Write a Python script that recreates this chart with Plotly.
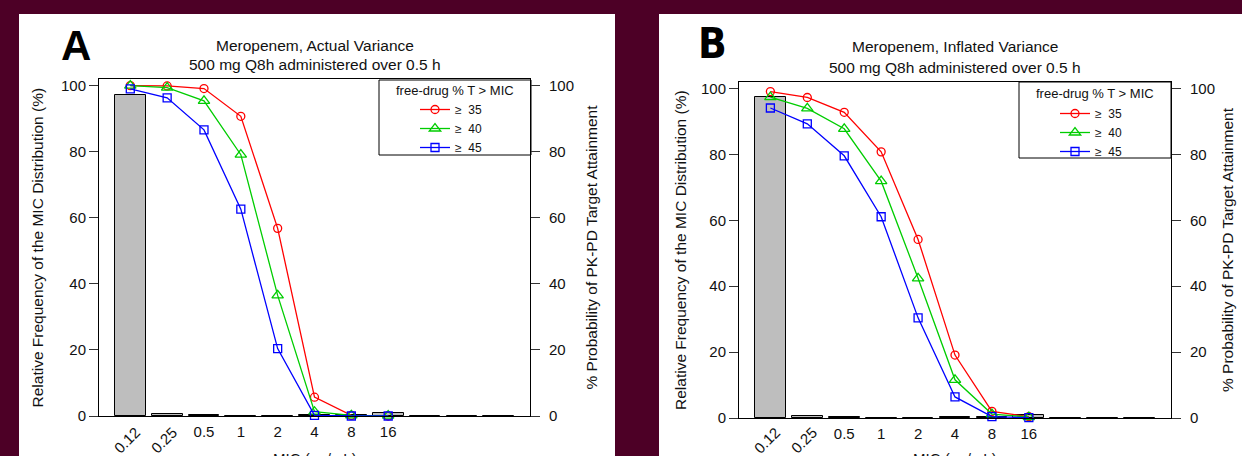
import plotly.graph_objects as go

# ---------------- data ----------------
mic_categories = ["0.12", "0.25", "0.5", "1", "2", "4", "8", "16", "32", "64", "128"]
mic_tick_labels = ["0.12", "0.25", "0.5", "1", "2", "4", "8", "16"]   # labelled categories
mic_freq = [97.3, 0.7, 0.3, 0.1, 0.1, 0.3, 0.2, 1.0, 0.0, 0.0, 0.0]

series_names = ["\u2265\u00a0\u00a035", "\u2265\u00a0\u00a040", "\u2265\u00a0\u00a045"]
pta_A_35 = [100.0, 99.9, 99.1, 90.7, 56.8, 5.7, 0.2, 0.0]
pta_A_40 = [100.0, 99.4, 95.4, 79.1, 36.5, 1.3, 0.2, 0.1]
pta_A_45 = [99.0, 96.3, 86.6, 62.6, 20.4, 0.2, 0.0, 0.0]
pta_B_35 = [99.1, 97.3, 92.8, 80.8, 54.2, 19.1, 2.0, 0.4]
pta_B_40 = [97.4, 94.0, 87.8, 71.9, 42.4, 11.6, 1.2, 0.3]
pta_B_45 = [94.1, 89.3, 79.6, 61.1, 30.4, 6.4, 0.4, 0.1]

panel_letters = ["A", "B"]
panel_titles = [("Meropenem, Actual Variance", "500 mg Q8h administered over 0.5 h"),
                ("Meropenem, Inflated Variance", "500 mg Q8h administered over 0.5 h")]
legend_title = "free-drug % T > MIC"
ylab_left = "Relative Frequency of the MIC Distribution (%)"
ylab_right = "% Probability of PK-PD Target Attainment"
xlab = "MIC (\u03bcg/mL)"
y_ticks = [0, 20, 40, 60, 80, 100]

# ---------------- styling ----------------
W, H = 1242, 456
BG = "#4d0026"
FONT = "Liberation Sans, Arial, Helvetica, sans-serif"
colors = ["#ff0000", "#00cd00", "#0000ff"]
symbols = ["circle-open", "triangle-up-open", "square-open"]
msizes = [8, 10, 8]

def fx(px):
    return px / W

def fy(py):
    return 1 - py / H

# bar positions like R barplot (width 1, space 0.2)
bar_x = [0.7 + 1.2 * i for i in range(len(mic_categories))]
x_range = [-0.32, 13.72]

panels = [
    dict(left=99, right=530, top=79, bottom=416, white=(19, 615),
         letter=(76, 46), t1=45.7, t2=64.5, yl=37, yr=591,
         leg=(415, 95), legbox=(379, 80, 531, 155), legt=90,
         series=[pta_A_35, pta_A_40, pta_A_45], lfont=FONT),
    dict(left=739, right=1171, top=82, bottom=418, white=(659, 1242),
         letter=(712, 44), t1=46.7, t2=67.5, yl=680, yr=1227,
         leg=(1055, 99), legbox=(1019, 82, 1171, 158), legt=93,
         series=[pta_B_35, pta_B_40, pta_B_45],
         lfont="Liberation Sans Narrow, DejaVu Sans Condensed, Liberation Sans, sans-serif"),
]

fig = go.Figure()
shapes = []
annotations = []
layout_axes = {}

for k, p in enumerate(panels):
    xa = "x" if k == 0 else "x2"
    ya_l = "y" if k == 0 else "y3"
    ya_r = "y2" if k == 0 else "y4"
    xa_name = "xaxis" if k == 0 else "xaxis2"
    yl_name = "yaxis" if k == 0 else "yaxis3"
    yr_name = "yaxis2" if k == 0 else "yaxis4"
    leg_name = "legend" if k == 0 else "legend2"

    # white panel
    shapes.append(dict(type="rect", xref="paper", yref="paper",
                       x0=fx(p["white"][0]), x1=fx(p["white"][1]),
                       y0=fy(470), y1=fy(14), fillcolor="white",
                       line=dict(width=0), layer="below"))

    # bars
    fig.add_trace(go.Bar(x=bar_x, y=mic_freq, width=1.0, xaxis=xa, yaxis=ya_l,
                         marker=dict(color="#bebebe", line=dict(color="black", width=1)),
                         showlegend=False, hoverinfo="skip"))

    # PTA lines
    for j, vals in enumerate(p["series"]):
        fig.add_trace(go.Scatter(
            x=bar_x[:len(vals)], y=vals, xaxis=xa, yaxis=ya_r,
            mode="lines+markers", name=series_names[j], legend=leg_name,
            line=dict(color=colors[j], width=1.3),
            marker=dict(symbol=symbols[j], size=msizes[j], color=colors[j],
                        line=dict(color=colors[j], width=1.3)),
            cliponaxis=False))

    xdom = [fx(p["left"]), fx(p["right"])]
    ydom = [fy(p["bottom"]), fy(p["top"])]
    layout_axes[xa_name] = dict(
        domain=xdom, range=x_range, anchor=ya_l, automargin=False,
        showline=True, mirror=True, linecolor="black", linewidth=1,
        showgrid=False, zeroline=False,
        ticks="outside", ticklen=2, tickcolor="rgba(0,0,0,0)",
        tickvals=bar_x[2:len(mic_tick_labels)], ticktext=mic_tick_labels[2:],
        tickfont=dict(family=FONT, size=15, color="#111"))
    layout_axes[yl_name] = dict(
        domain=ydom, range=[0, 102], anchor=xa, automargin=False,
        showline=True, mirror=True, linecolor="black", linewidth=1,
        showgrid=False, zeroline=False,
        ticks="outside", ticklen=9, tickcolor="#333", tickwidth=1,
        tickvals=y_ticks, tickfont=dict(family=FONT, size=15, color="#111"))
    layout_axes[yr_name] = dict(
        domain=ydom, range=[0, 102], anchor=xa, overlaying=ya_l, side="right",
        automargin=False,
        showline=False, showgrid=False, zeroline=False,
        ticks="outside", ticklen=9, tickcolor="#333", tickwidth=1,
        ticklabelstandoff=6,
        tickvals=y_ticks, tickfont=dict(family=FONT, size=15, color="#111"))

    layout_axes[leg_name] = dict(
        x=fx(p["leg"][0]), y=fy(p["leg"][1]), xanchor="left", yanchor="top",
        bgcolor="rgba(0,0,0,0)", borderwidth=0,
        font=dict(family=FONT, size=12, color="#111"), itemwidth=30,
        tracegroupgap=0)

    # legend box
    lb = p["legbox"]
    shapes.append(dict(type="rect", xref="paper", yref="paper",
                       x0=fx(lb[0]), x1=fx(lb[2]), y0=fy(lb[3]), y1=fy(lb[1]),
                       fillcolor="white", line=dict(color="black", width=1),
                       layer="below"))
    annotations.append(dict(text=legend_title, xref="paper", yref="paper",
                            x=fx((lb[0] + lb[2]) / 2), y=fy(p["legt"]),
                            xanchor="center", yanchor="middle", showarrow=False,
                            font=dict(family=FONT, size=13, color="#111")))

    # rotated x tick labels
    for i in range(2):
        annotations.append(dict(text=mic_tick_labels[i], xref=xa, yref="paper",
                                x=bar_x[i], xshift=-4, y=fy(440),
                                xanchor="center", yanchor="middle", textangle=-45,
                                showarrow=False,
                                font=dict(family=FONT, size=15, color="#111")))

    cx = (p["left"] + p["right"]) / 2
    # titles
    annotations.append(dict(text=panel_titles[k][0], xref="paper", yref="paper",
                            x=fx(cx), y=fy(p["t1"]), xanchor="center", yanchor="middle",
                            showarrow=False, font=dict(family=FONT, size=15.5, color="#111")))
    annotations.append(dict(text=panel_titles[k][1], xref="paper", yref="paper",
                            x=fx(cx), y=fy(p["t2"]), xanchor="center", yanchor="middle",
                            showarrow=False, font=dict(family=FONT, size=15.5, color="#111")))
    # panel letter
    annotations.append(dict(text="<b>%s</b>" % panel_letters[k], xref="paper", yref="paper",
                            x=fx(p["letter"][0]), y=fy(p["letter"][1]),
                            xanchor="center", yanchor="middle", showarrow=False,
                            font=dict(family=p["lfont"], size=42, color="black")))
    # axis titles
    cy = (p["top"] + p["bottom"]) / 2
    annotations.append(dict(text=ylab_left, xref="paper", yref="paper",
                            x=fx(p["yl"]), y=fy(cy), xanchor="center", yanchor="middle",
                            textangle=-90, showarrow=False,
                            font=dict(family=FONT, size=15.5, color="#111")))
    annotations.append(dict(text=ylab_right, xref="paper", yref="paper",
                            x=fx(p["yr"]), y=fy(cy), xanchor="center", yanchor="middle",
                            textangle=-90, showarrow=False,
                            font=dict(family=FONT, size=15.5, color="#111")))
    annotations.append(dict(text=xlab, xref="paper", yref="paper",
                            x=fx(cx), y=fy(448), xanchor="center", yanchor="top",
                            showarrow=False, font=dict(family=FONT, size=15, color="#111")))

fig.update_layout(
    width=W, height=H, margin=dict(l=0, r=0, t=0, b=0, autoexpand=False),
    paper_bgcolor=BG, plot_bgcolor="white",
    barmode="overlay", bargap=0,
    shapes=shapes, annotations=annotations,
    **layout_axes)

fig.write_html(
    "out.html",
    config={"displayModeBar": False, "responsive": False},
    post_script=("document.documentElement.style.margin='0';"
                 "document.documentElement.style.overflow='hidden';"
                 "document.body.style.margin='0';document.body.style.padding='0';"
                 "document.body.style.overflow='hidden';"
                 "document.body.style.background='%s';" % BG))
